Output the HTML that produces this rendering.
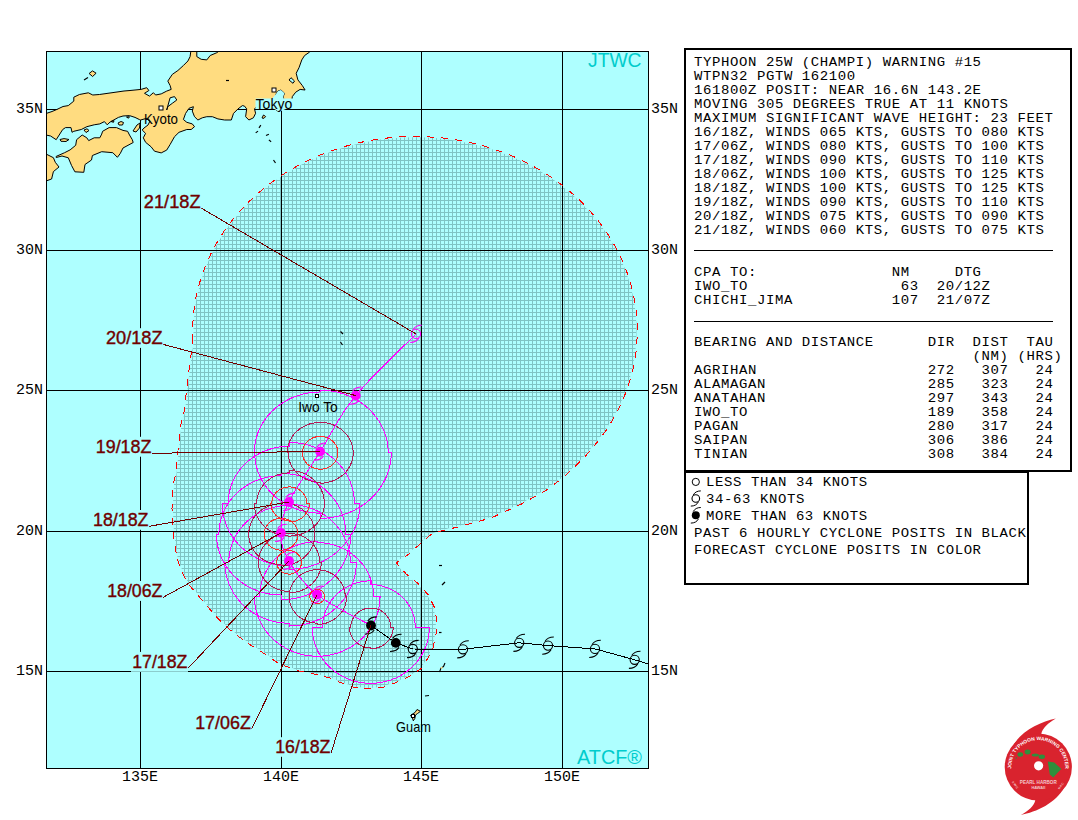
<!DOCTYPE html><html><head><meta charset="utf-8"><title>JTWC</title><style>
html,body{margin:0;padding:0;background:#fff;width:1078px;height:820px;overflow:hidden}
svg{position:absolute;left:0;top:0;display:block}
.mono{font-family:"Liberation Mono",monospace;}
.sans{font-family:"Liberation Sans",sans-serif;}
</style></head><body>
<svg width="1078" height="820" viewBox="0 0 1078 820">
<defs><clipPath id="mc"><rect x="47" y="52" width="601" height="716"/></clipPath>
<pattern id="ht" patternUnits="userSpaceOnUse" x="0" y="0" width="4" height="4"><rect width="4" height="4" fill="#aeffff"/><rect width="4" height="1" fill="#7fc4c4"/><rect width="1" height="4" fill="#7fc4c4"/></pattern>
</defs>
<rect x="47" y="52" width="601" height="716" fill="#aeffff"/>
<g clip-path="url(#mc)">
<polygon points="193.0,341.1 192.7,334.3 192.7,327.5 193.0,320.7 193.5,313.9 194.4,307.2 195.4,300.4 196.8,293.7 198.4,287.1 200.3,280.5 202.4,274.0 204.8,267.5 207.5,261.1 210.4,254.8 213.6,248.6 217.0,242.5 220.7,236.5 224.5,230.6 228.7,224.9 233.0,219.3 237.6,213.8 242.4,208.4 247.4,203.2 252.6,198.2 258.0,193.3 263.6,188.6 269.4,184.0 275.3,179.7 281.5,175.5 287.7,171.5 294.2,167.7 300.8,164.1 307.5,160.7 314.4,157.5 321.4,154.6 328.5,151.8 335.7,149.3 343.0,147.0 350.4,144.9 357.9,143.0 365.4,141.4 373.0,140.0 380.7,138.8 388.4,137.9 396.1,137.2 403.8,136.7 411.6,136.5 419.4,136.5 427.1,136.8 434.9,137.3 442.6,138.0 450.3,139.0 458.0,140.2 465.6,141.6 473.1,143.3 480.6,145.1 487.9,147.3 495.2,149.6 502.4,152.2 509.5,154.9 516.5,157.9 523.3,161.2 530.1,164.6 536.6,168.2 543.1,172.0 549.3,176.0 555.4,180.2 561.4,184.6 567.1,189.2 572.7,193.9 578.1,198.8 583.3,203.9 588.2,209.1 593.0,214.5 597.5,220.0 601.9,225.6 606.0,231.4 609.8,237.3 613.4,243.3 616.8,249.4 620.0,255.6 622.8,261.9 625.5,268.3 627.8,274.8 630.0,281.3 631.8,287.9 633.4,294.6 634.7,301.3 635.8,308.0 636.5,314.8 637.0,321.6 637.3,328.4 637.2,335.2 636.9,341.9 636.4,348.7 635.5,355.5 634.4,362.2 633.0,368.9 631.4,375.5 629.4,382.1 627.3,388.6 624.8,395.1 622.1,401.5 619.2,407.7 616.0,413.9 612.6,420.0 608.9,426.0 605.0,431.9 600.8,437.6 596.4,443.2 585.4,456.1 570.7,470.7 561.0,479.3 546.3,490.2 520.7,504.4 491.5,517.8 462.2,525.9 440.2,531.2 430.5,534.9 420.7,543.4 408.5,554.4 396.3,562.9 406.1,573.9 418.3,583.7 428.0,594.6 434.1,606.8 436.6,619.0 436.6,631.2 432.9,648.3 428.0,658.0 422.0,667.8 413.3,674.2 398.4,681.6 383.6,687.2 368.7,689.0 353.9,687.2 342.8,683.5 329.8,677.9 315.0,674.2 296.4,670.5 277.8,662.9 264.1,653.5 250.5,645.0 238.5,636.4 226.6,627.1 216.3,616.8 206.1,604.9 195.8,592.9 187.3,582.7 182.2,572.4 176.8,557.6 173.2,533.2 172.0,508.8 173.2,484.4 175.6,475.1 178.0,450.7 180.5,426.3 184.1,411.7 186.6,389.8 190.2,360.5" fill="url(#ht)" stroke="#aeffff" stroke-width="1.6"/>
<rect x="140" y="52" width="1" height="716" fill="#000"/>
<rect x="281" y="52" width="1" height="716" fill="#000"/>
<rect x="421" y="52" width="1" height="716" fill="#000"/>
<rect x="562" y="52" width="1" height="716" fill="#000"/>
<rect x="47" y="109" width="601" height="1" fill="#000"/>
<rect x="47" y="250" width="601" height="1" fill="#000"/>
<rect x="47" y="390" width="601" height="1" fill="#000"/>
<rect x="47" y="531" width="601" height="1" fill="#000"/>
<rect x="47" y="671" width="601" height="1" fill="#000"/>
<polygon points="193.0,341.1 192.7,334.3 192.7,327.5 193.0,320.7 193.5,313.9 194.4,307.2 195.4,300.4 196.8,293.7 198.4,287.1 200.3,280.5 202.4,274.0 204.8,267.5 207.5,261.1 210.4,254.8 213.6,248.6 217.0,242.5 220.7,236.5 224.5,230.6 228.7,224.9 233.0,219.3 237.6,213.8 242.4,208.4 247.4,203.2 252.6,198.2 258.0,193.3 263.6,188.6 269.4,184.0 275.3,179.7 281.5,175.5 287.7,171.5 294.2,167.7 300.8,164.1 307.5,160.7 314.4,157.5 321.4,154.6 328.5,151.8 335.7,149.3 343.0,147.0 350.4,144.9 357.9,143.0 365.4,141.4 373.0,140.0 380.7,138.8 388.4,137.9 396.1,137.2 403.8,136.7 411.6,136.5 419.4,136.5 427.1,136.8 434.9,137.3 442.6,138.0 450.3,139.0 458.0,140.2 465.6,141.6 473.1,143.3 480.6,145.1 487.9,147.3 495.2,149.6 502.4,152.2 509.5,154.9 516.5,157.9 523.3,161.2 530.1,164.6 536.6,168.2 543.1,172.0 549.3,176.0 555.4,180.2 561.4,184.6 567.1,189.2 572.7,193.9 578.1,198.8 583.3,203.9 588.2,209.1 593.0,214.5 597.5,220.0 601.9,225.6 606.0,231.4 609.8,237.3 613.4,243.3 616.8,249.4 620.0,255.6 622.8,261.9 625.5,268.3 627.8,274.8 630.0,281.3 631.8,287.9 633.4,294.6 634.7,301.3 635.8,308.0 636.5,314.8 637.0,321.6 637.3,328.4 637.2,335.2 636.9,341.9 636.4,348.7 635.5,355.5 634.4,362.2 633.0,368.9 631.4,375.5 629.4,382.1 627.3,388.6 624.8,395.1 622.1,401.5 619.2,407.7 616.0,413.9 612.6,420.0 608.9,426.0 605.0,431.9 600.8,437.6 596.4,443.2 585.4,456.1 570.7,470.7 561.0,479.3 546.3,490.2 520.7,504.4 491.5,517.8 462.2,525.9 440.2,531.2 430.5,534.9 420.7,543.4 408.5,554.4 396.3,562.9 406.1,573.9 418.3,583.7 428.0,594.6 434.1,606.8 436.6,619.0 436.6,631.2 432.9,648.3 428.0,658.0 422.0,667.8 413.3,674.2 398.4,681.6 383.6,687.2 368.7,689.0 353.9,687.2 342.8,683.5 329.8,677.9 315.0,674.2 296.4,670.5 277.8,662.9 264.1,653.5 250.5,645.0 238.5,636.4 226.6,627.1 216.3,616.8 206.1,604.9 195.8,592.9 187.3,582.7 182.2,572.4 176.8,557.6 173.2,533.2 172.0,508.8 173.2,484.4 175.6,475.1 178.0,450.7 180.5,426.3 184.1,411.7 186.6,389.8 190.2,360.5" fill="none" stroke="#ff0000" stroke-width="1" stroke-dasharray="7 7" shape-rendering="crispEdges"/>
<polygon points="190.7,40.0 190.7,52.1 190.1,56.6 187.9,61.0 183.4,65.5 177.9,70.5 172.3,74.4 167.8,81.1 170.1,85.5 171.2,89.4 166.7,91.1 161.2,93.9 155.6,95.0 153.4,92.7 149.5,96.1 144.5,93.3 148.9,90.5 146.7,87.7 141.1,89.4 130.0,90.5 124.0,91.0 99.4,94.5 92.8,95.0 88.3,92.8 79.4,94.5 73.8,97.2 73.8,101.1 68.3,105.6 63.0,106.5 57.0,109.4 52.0,111.5 47.0,113.2 40.0,113.5 40.0,135.0 46.0,135.0 50.6,136.0 56.2,139.7 62.7,129.5 65.5,127.6 71.0,127.6 72.0,132.3 73.8,131.3 81.3,129.5 86.8,126.7 94.2,124.8 99.8,123.9 104.4,121.6 107.2,124.8 110.0,122.1 118.4,117.4 123.0,116.0 129.5,115.6 135.0,117.4 139.7,119.7 140.6,120.0 146.0,118.5 150.0,121.0 148.0,125.0 144.0,128.0 142.2,130.0 145.6,133.4 143.3,137.8 145.6,142.3 151.1,146.8 154.5,151.2 161.2,152.9 166.7,150.1 170.1,144.5 174.5,136.7 179.0,132.3 186.8,129.5 191.2,129.5 194.5,126.7 192.3,123.9 186.8,122.3 183.4,119.5 185.6,113.4 189.0,108.3 193.4,106.7 192.3,111.1 194.5,116.7 197.9,120.0 202.3,117.8 206.8,116.7 212.4,116.7 217.9,118.9 224.6,120.0 231.3,120.0 233.5,113.4 238.0,108.9 242.4,105.6 244.5,106.1 246.7,108.9 245.6,116.7 248.9,120.0 253.4,117.8 255.6,113.3 254.5,108.9 256.7,106.7 265.0,106.0 274.5,108.9 279.0,111.7 277.0,106.0 275.0,100.0 276.0,94.0 278.0,91.0 281.0,90.0 284.5,93.3 283.0,97.0 285.0,102.0 287.0,106.0 289.0,107.8 292.3,106.7 291.8,101.1 292.3,96.6 295.7,92.2 300.1,89.4 305.1,90.0 302.3,85.5 297.9,79.9 296.2,73.3 299.0,67.7 301.8,59.9 304.6,55.5 309.6,52.1 309.6,40.0 219.1,40.0 219.1,51.0 216.8,52.7 210.2,55.5 206.8,59.9 201.2,59.3 196.8,56.6 196.8,40.0" fill="#ffdc80" stroke="#000" stroke-width="1"/>
<polygon points="56.2,156.4 64.6,152.7 70.1,149.9 75.7,145.3 76.6,139.7 82.2,135.0 86.8,137.8 88.7,140.6 94.2,137.8 99.8,137.8 101.7,134.1 102.6,131.3 109.1,127.6 116.5,127.6 123.0,130.4 127.6,131.3 129.5,135.0 132.3,139.7 133.2,142.5 123.0,148.0 120.2,153.6 117.4,157.3 112.8,152.7 101.7,151.7 92.4,155.5 91.5,160.0 85.0,164.5 83.8,172.3 74.9,171.8 71.6,165.6 68.3,157.8 62.0,156.0 56.2,157.5" fill="#ffdc80" stroke="#000" stroke-width="1"/>
<polygon points="40.0,154.0 46.0,154.0 53.4,157.7 55.3,162.3 59.0,167.0 53.4,171.6 51.6,179.0 46.0,181.0 40.0,181.0" fill="#ffdc80" stroke="#000" stroke-width="1"/>
<polygon points="133.0,131.0 137.0,125.0 140.0,123.0 139.5,128.0 136.0,132.0" fill="#ffdc80" stroke="#000" stroke-width="1"/>
<polygon points="89.1,73.5 92.5,70.9 96.1,73.2 92.6,76.5" fill="#ffdc80" stroke="#000" stroke-width="1"/>
<polygon points="118.0,123.0 121.0,121.5 123.5,122.5 122.5,125.0 119.0,125.0" fill="#ffdc80" stroke="#000" stroke-width="1"/>
<polygon points="60.0,139.5 64.0,138.6 69.0,139.5 66.0,141.5 61.0,141.3" fill="#ffdc80" stroke="#000" stroke-width="1"/>
<polygon points="84.0,130.0 87.0,128.8 89.0,130.5 86.0,132.5" fill="#ffdc80" stroke="#000" stroke-width="1"/>
<polygon points="111.0,121.5 114.0,120.6 113.5,122.3" fill="#ffdc80" stroke="#000" stroke-width="1"/>
<polygon points="126.5,117.0 129.5,116.7 128.5,118.2" fill="#ffdc80" stroke="#000" stroke-width="1"/>
<polygon points="166.7,110.0 170.1,97.8 174.5,96.6 176.8,100.0 172.3,103.3 167.8,106.7" fill="#aeffff" stroke="#000" stroke-width="1"/>
<polygon points="256.0,100.0 272.0,99.0 276.0,94.0 278.0,91.0 281.0,90.0 284.5,93.3 283.0,97.0 285.0,102.0 287.0,106.0 289.0,107.8 279.0,111.7 274.5,108.9 265.0,106.0 256.7,106.7" fill="#aeffff" stroke="none"/>
<rect x="255.5" y="98.5" width="37.5" height="10" fill="#aeffff"/>
<rect x="159" y="106" width="4" height="4" fill="#fff" stroke="#000" stroke-width="1"/>
<rect x="272" y="88" width="4" height="4" fill="#fff" stroke="#000" stroke-width="1"/>
<text x="144" y="123.6" class="sans" font-size="15" fill="#000" textLength="34" lengthAdjust="spacingAndGlyphs">Kyoto</text>
<text x="255.6" y="109" class="sans" font-size="15" fill="#000" textLength="36.7" lengthAdjust="spacingAndGlyphs">Tokyo</text>
<rect x="315.5" y="394.5" width="3" height="3" fill="#fff" stroke="#000" stroke-width="1"/>
<text x="298.2" y="412" class="sans" font-size="15" fill="#000" textLength="39.6" lengthAdjust="spacingAndGlyphs">Iwo To</text>
<text x="396.1" y="731.8" class="sans" font-size="15" fill="#000" textLength="34.8" lengthAdjust="spacingAndGlyphs">Guam</text>
<polygon points="417,709.5 420.5,711.3 417.5,713.5 415.5,715 414.8,718.5 413.3,720.8 412.5,718 410.5,715.5 412.5,714 415,712.5" fill="#ffdc80" stroke="#000" stroke-width="1"/>
<rect x="411" y="714" width="4" height="4" fill="#000"/><rect x="412" y="715" width="2" height="2" fill="#fff"/>
<line x1="439.0" y1="565.5" x2="442.0" y2="565.5" stroke="#000" stroke-width="1.2"/>
<line x1="442.0" y1="585.0" x2="445.0" y2="582.0" stroke="#000" stroke-width="1.2"/>
<line x1="439.0" y1="632.5" x2="441.5" y2="632.5" stroke="#000" stroke-width="1.2"/>
<line x1="425.0" y1="696.0" x2="429.0" y2="695.5" stroke="#000" stroke-width="1.2"/>
<line x1="340.5" y1="331.5" x2="343.0" y2="334.0" stroke="#000" stroke-width="1.2"/>
<line x1="340.5" y1="342.0" x2="342.5" y2="345.0" stroke="#000" stroke-width="1.2"/>
<line x1="259.0" y1="127.8" x2="260.8" y2="125.2" stroke="#000" stroke-width="1.2"/>
<line x1="255.7" y1="132.9" x2="258.0" y2="131.1" stroke="#000" stroke-width="1.2"/>
<line x1="266.0" y1="135.5" x2="268.9" y2="134.2" stroke="#000" stroke-width="1.2"/>
<line x1="268.9" y1="139.9" x2="271.1" y2="141.7" stroke="#000" stroke-width="1.2"/>
<line x1="226.0" y1="80.5" x2="229.0" y2="80.5" stroke="#000" stroke-width="1.2"/>
<line x1="84.0" y1="80.0" x2="88.0" y2="77.5" stroke="#000" stroke-width="1.2"/>
<line x1="273.5" y1="160.0" x2="275.5" y2="163.0" stroke="#000" stroke-width="1.2"/>
<path d="M439.5,672 L441,668 L443.5,666.5 L445,663" fill="none" stroke="#000" stroke-width="1.1"/><circle cx="441.7" cy="667.7" r="1" fill="#ffdc80"/>
<polygon points="262,118 263.5,115 265.6,116.5 264,118.3" fill="#ffdc80" stroke="#000" stroke-width="1"/>
<polygon points="289,80 291,77.7 294.5,81 293,83.3" fill="#aeffff" stroke="#000" stroke-width="1"/>
<path d="M370.80,584.63L373.71,584.72L376.60,584.99L379.47,585.45L382.30,586.08L385.08,586.89L387.80,587.87L390.45,589.02L393.01,590.33L395.48,591.80L397.84,593.42L400.09,595.19L402.21,597.10L404.20,599.13L406.04,601.28L407.74,603.55L409.27,605.91L410.64,608.37L411.84,610.91L412.87,613.52L413.71,616.18L414.37,618.89L414.84,621.64L415.13,624.42L415.22,627.20L429.38,627.20L429.26,630.87L428.88,634.53L428.26,638.15L427.39,641.73L426.27,645.25L424.92,648.68L423.34,652.03L421.53,655.27L419.51,658.39L417.28,661.38L414.84,664.22L412.22,666.90L409.43,669.41L406.46,671.74L403.35,673.88L400.09,675.82L396.71,677.55L393.22,679.07L389.63,680.36L385.96,681.43L382.23,682.26L378.45,682.86L374.63,683.22L370.80,683.34L370.80,683.34L366.97,683.22L363.15,682.86L359.37,682.26L355.64,681.43L351.97,680.36L348.38,679.07L344.89,677.55L341.51,675.82L338.25,673.88L335.14,671.74L332.17,669.41L329.38,666.90L326.76,664.22L324.32,661.38L322.09,658.39L320.07,655.27L318.26,652.03L316.68,648.68L315.33,645.25L314.21,641.73L313.34,638.15L312.72,634.53L312.34,630.87L312.22,627.20L322.47,627.20L322.57,624.17L322.88,621.15L323.40,618.16L324.12,615.21L325.04,612.31L326.15,609.48L327.45,606.72L328.95,604.04L330.62,601.47L332.46,599.00L334.46,596.66L336.63,594.45L338.93,592.38L341.38,590.46L343.95,588.69L346.64,587.09L349.42,585.66L352.31,584.41L355.26,583.34L358.29,582.46L361.37,581.77L364.49,581.28L367.64,580.98L370.80,580.88Z" fill="none" stroke="#ff00ff" stroke-width="1" shape-rendering="crispEdges"/>
<path d="M317.20,542.60L320.89,542.71L324.57,543.06L328.22,543.63L331.82,544.43L335.35,545.45L338.81,546.69L342.18,548.15L345.44,549.81L348.58,551.67L351.58,553.72L354.44,555.95L357.13,558.36L359.66,560.93L362.00,563.65L364.16,566.51L366.11,569.50L367.85,572.60L369.38,575.81L370.68,579.11L371.75,582.48L372.59,585.90L373.19,589.38L373.55,592.88L373.67,596.40L380.06,596.40L379.92,600.32L379.52,604.22L378.85,608.08L377.92,611.90L376.72,615.65L375.27,619.32L373.58,622.89L371.64,626.34L369.46,629.67L367.07,632.85L364.46,635.88L361.65,638.74L358.65,641.42L355.47,643.91L352.12,646.19L348.63,648.26L345.00,650.11L341.25,651.72L337.41,653.10L333.47,654.24L329.46,655.13L325.40,655.77L321.31,656.15L317.20,656.28L317.20,656.28L313.09,656.15L309.00,655.77L304.94,655.13L300.93,654.24L296.99,653.10L293.15,651.72L289.40,650.11L285.77,648.26L282.28,646.19L278.93,643.91L275.75,641.42L272.75,638.74L269.94,635.88L267.33,632.85L264.94,629.67L262.76,626.34L260.82,622.89L259.13,619.32L257.68,615.65L256.48,611.90L255.55,608.08L254.88,604.22L254.48,600.32L254.34,596.40L259.74,596.40L259.87,592.82L260.24,589.26L260.85,585.72L261.70,582.23L262.79,578.81L264.12,575.45L265.67,572.19L267.44,569.03L269.43,565.99L271.62,563.08L274.00,560.31L276.57,557.70L279.32,555.25L282.22,552.97L285.28,550.89L288.47,549.00L291.79,547.31L295.21,545.83L298.73,544.57L302.33,543.53L305.99,542.72L309.70,542.13L313.44,541.78L317.20,541.66Z" fill="none" stroke="#ff00ff" stroke-width="1" shape-rendering="crispEdges"/>
<path d="M289.10,504.39L293.11,504.51L297.10,504.88L301.06,505.50L304.97,506.37L308.81,507.47L312.57,508.80L316.22,510.37L319.76,512.16L323.17,514.17L326.43,516.38L329.53,518.78L332.46,521.38L335.20,524.15L337.75,527.08L340.08,530.17L342.20,533.39L344.09,536.74L345.75,540.20L347.16,543.75L348.33,547.39L349.24,551.08L349.89,554.83L350.29,558.61L350.42,562.40L356.35,562.40L356.21,566.56L355.78,570.70L355.06,574.81L354.06,578.87L352.78,582.85L351.23,586.75L349.42,590.54L347.34,594.21L345.02,597.75L342.45,601.13L339.66,604.35L336.65,607.39L333.44,610.24L330.04,612.88L326.46,615.30L322.73,617.50L318.84,619.46L314.84,621.18L310.72,622.65L306.51,623.86L302.22,624.80L297.88,625.48L293.50,625.89L289.10,626.03L289.10,623.22L284.90,623.09L280.71,622.70L276.56,622.05L272.46,621.15L268.44,619.99L264.50,618.59L260.67,616.95L256.96,615.07L253.39,612.97L249.97,610.65L246.71,608.13L243.64,605.41L240.77,602.50L238.10,599.42L235.65,596.19L233.43,592.81L231.45,589.30L229.71,585.67L228.23,581.95L227.01,578.14L226.05,574.27L225.37,570.34L224.95,566.38L224.82,562.40L228.77,562.40L228.90,558.67L229.29,554.95L229.93,551.27L230.83,547.63L231.97,544.05L233.36,540.56L234.99,537.16L236.85,533.86L238.94,530.69L241.24,527.65L243.74,524.77L246.44,522.04L249.32,519.49L252.37,517.12L255.58,514.94L258.94,512.97L262.42,511.21L266.01,509.67L269.71,508.35L273.49,507.27L277.33,506.42L281.23,505.81L285.15,505.45L289.10,505.32Z" fill="none" stroke="#ff00ff" stroke-width="1" shape-rendering="crispEdges"/>
<path d="M281.10,473.38L285.33,473.51L289.54,473.90L293.72,474.55L297.84,475.45L301.89,476.61L305.85,478.01L309.71,479.65L313.44,481.53L317.03,483.63L320.48,485.95L323.75,488.47L326.84,491.19L329.73,494.10L332.41,497.18L334.88,500.41L337.11,503.79L339.11,507.30L340.86,510.93L342.35,514.65L343.58,518.46L344.54,522.33L345.23,526.26L345.64,530.22L345.78,534.20L350.76,534.20L350.61,538.48L350.16,542.75L349.42,546.98L348.38,551.15L347.06,555.25L345.45,559.26L343.57,563.17L341.42,566.95L339.02,570.59L336.36,574.07L333.47,577.38L330.35,580.51L327.03,583.44L323.50,586.16L319.80,588.66L315.93,590.92L311.91,592.94L307.76,594.71L303.49,596.22L299.13,597.46L294.69,598.44L290.19,599.14L285.66,599.56L281.10,599.70L281.10,595.02L276.87,594.89L272.66,594.50L268.48,593.85L264.36,592.95L260.31,591.79L256.35,590.39L252.49,588.75L248.76,586.87L245.17,584.77L241.72,582.45L238.45,579.93L235.36,577.21L232.47,574.30L229.79,571.22L227.32,567.99L225.09,564.61L223.09,561.10L221.34,557.47L219.85,553.75L218.62,549.94L217.66,546.07L216.97,542.14L216.56,538.18L216.42,534.20L218.91,534.20L219.04,530.38L219.44,526.57L220.10,522.79L221.03,519.06L222.21,515.40L223.64,511.82L225.32,508.34L227.24,504.96L229.39,501.71L231.76,498.60L234.34,495.64L237.12,492.85L240.09,490.23L243.24,487.81L246.55,485.58L250.00,483.56L253.59,481.75L257.30,480.17L261.11,478.82L265.00,477.71L268.97,476.84L272.98,476.22L277.03,475.85L281.10,475.72Z" fill="none" stroke="#ff00ff" stroke-width="1" shape-rendering="crispEdges"/>
<path d="M289.30,442.48L293.56,442.61L297.80,443.00L302.01,443.65L306.16,444.55L310.24,445.71L314.23,447.11L318.11,448.75L321.87,450.63L325.49,452.73L328.96,455.05L332.25,457.57L335.36,460.29L338.28,463.20L340.98,466.28L343.47,469.51L345.72,472.89L347.73,476.40L349.49,480.03L350.99,483.75L352.23,487.56L353.19,491.43L353.89,495.36L354.31,499.32L354.45,503.30L359.96,503.30L359.81,507.61L359.35,511.91L358.60,516.17L357.55,520.37L356.21,524.50L354.58,528.54L352.67,532.48L350.49,536.28L348.05,539.95L345.36,543.46L342.42,546.79L339.26,549.94L335.89,552.89L332.31,555.63L328.56,558.15L324.63,560.43L320.55,562.46L316.34,564.24L312.01,565.76L307.59,567.02L303.08,568.00L298.52,568.70L293.92,569.12L289.30,569.26L289.30,565.99L284.91,565.86L280.54,565.45L276.20,564.79L271.92,563.85L267.72,562.66L263.60,561.22L259.60,559.52L255.73,557.59L251.99,555.42L248.42,553.04L245.03,550.43L241.82,547.63L238.81,544.63L236.03,541.46L233.47,538.13L231.15,534.64L229.08,531.03L227.26,527.29L225.71,523.45L224.44,519.53L223.44,515.53L222.72,511.48L222.29,507.40L222.15,503.30L228.16,503.30L228.29,499.57L228.69,495.85L229.34,492.17L230.25,488.53L231.41,484.95L232.82,481.46L234.47,478.06L236.35,474.76L238.47,471.59L240.80,468.55L243.34,465.67L246.07,462.94L248.99,460.39L252.08,458.02L255.33,455.84L258.73,453.87L262.26,452.11L265.90,450.57L269.65,449.25L273.48,448.17L277.37,447.32L281.32,446.71L285.30,446.35L289.30,446.22Z" fill="none" stroke="#ff00ff" stroke-width="1" shape-rendering="crispEdges"/>
<path d="M320.20,390.11L324.65,390.24L329.08,390.65L333.47,391.31L337.80,392.25L342.06,393.44L346.22,394.88L350.28,396.58L354.20,398.51L357.98,400.68L361.60,403.06L365.04,405.67L368.29,408.47L371.33,411.47L374.15,414.64L376.74,417.97L379.09,421.46L381.19,425.07L383.03,428.81L384.59,432.65L385.89,436.57L386.90,440.57L387.62,444.62L388.06,448.70L388.20,452.80L391.25,452.80L391.10,457.08L390.64,461.35L389.88,465.58L388.83,469.75L387.48,473.85L385.84,477.86L383.92,481.77L381.73,485.55L379.27,489.19L376.57,492.67L373.62,495.98L370.44,499.11L367.05,502.04L363.45,504.76L359.67,507.26L355.72,509.52L351.62,511.54L347.39,513.31L343.04,514.82L338.59,516.06L334.06,517.04L329.47,517.74L324.85,518.16L320.20,518.30L320.20,513.15L315.92,513.02L311.65,512.63L307.43,511.99L303.26,511.09L299.16,509.95L295.15,508.56L291.25,506.93L287.47,505.07L283.83,502.98L280.35,500.68L277.04,498.17L273.91,495.47L270.98,492.59L268.26,489.54L265.77,486.33L263.50,482.98L261.49,479.49L259.72,475.90L258.21,472.20L256.96,468.42L255.99,464.57L255.29,460.68L254.87,456.75L254.73,452.80L254.23,452.80L254.37,448.82L254.79,444.86L255.49,440.93L256.47,437.06L257.73,433.25L259.25,429.53L261.03,425.90L263.07,422.39L265.35,419.01L267.86,415.78L270.60,412.70L273.55,409.79L276.70,407.07L280.04,404.55L283.55,402.23L287.21,400.13L291.02,398.25L294.95,396.61L298.99,395.21L303.12,394.05L307.33,393.15L311.59,392.50L315.89,392.11L320.20,391.98Z" fill="none" stroke="#ff00ff" stroke-width="1" shape-rendering="crispEdges"/>
<path d="M370.80,608.02L372.11,608.06L373.41,608.18L374.70,608.39L375.98,608.67L377.23,609.04L378.46,609.48L379.65,610.00L380.81,610.59L381.92,611.25L382.98,611.98L384.00,612.78L384.95,613.64L385.85,614.55L386.68,615.52L387.44,616.54L388.13,617.61L388.75,618.72L389.29,619.86L389.75,621.03L390.13,622.24L390.43,623.46L390.64,624.70L390.77,625.95L390.82,627.20L393.26,627.20L393.21,628.61L393.06,630.01L392.82,631.40L392.49,632.77L392.06,634.12L391.55,635.44L390.94,636.72L390.25,637.96L389.47,639.16L388.62,640.30L387.68,641.39L386.68,642.42L385.61,643.38L384.47,644.27L383.28,645.09L382.03,645.84L380.73,646.50L379.39,647.08L378.02,647.58L376.61,647.99L375.18,648.31L373.73,648.54L372.27,648.67L370.80,648.72L370.80,647.78L369.40,647.74L368.00,647.61L366.61,647.39L365.24,647.08L363.90,646.69L362.58,646.22L361.30,645.66L360.06,645.03L358.87,644.32L357.72,643.53L356.64,642.68L355.61,641.76L354.65,640.77L353.76,639.73L352.94,638.64L352.20,637.49L351.54,636.30L350.96,635.08L350.46,633.82L350.05,632.53L349.73,631.22L349.50,629.89L349.37,628.55L349.32,627.20L350.78,627.20L350.83,625.95L350.96,624.70L351.17,623.46L351.47,622.24L351.85,621.03L352.31,619.86L352.85,618.72L353.47,617.61L354.16,616.54L354.92,615.52L355.75,614.55L356.65,613.64L357.60,612.78L358.62,611.98L359.68,611.25L360.79,610.59L361.95,610.00L363.14,609.48L364.37,609.04L365.62,608.67L366.90,608.39L368.19,608.18L369.49,608.06L370.80,608.02Z" fill="none" stroke="#b41856" stroke-width="1" shape-rendering="crispEdges"/>
<path d="M317.20,569.73L319.03,569.79L320.85,569.96L322.66,570.25L324.44,570.64L326.20,571.15L327.91,571.76L329.58,572.48L331.20,573.31L332.75,574.23L334.24,575.24L335.66,576.35L336.99,577.54L338.25,578.82L339.41,580.17L340.47,581.58L341.44,583.07L342.30,584.61L343.06,586.20L343.71,587.83L344.24,589.50L344.65,591.20L344.95,592.92L345.13,594.66L345.19,596.40L346.66,596.40L346.60,598.24L346.41,600.06L346.10,601.88L345.66,603.67L345.10,605.42L344.42,607.14L343.63,608.82L342.72,610.43L341.70,611.99L340.58,613.49L339.35,614.91L338.03,616.25L336.63,617.50L335.14,618.67L333.57,619.74L331.93,620.71L330.23,621.58L328.48,622.33L326.67,622.98L324.83,623.51L322.95,623.93L321.05,624.23L319.13,624.41L317.20,624.47L317.20,623.07L315.37,623.01L313.55,622.84L311.74,622.55L309.96,622.16L308.20,621.65L306.49,621.04L304.82,620.32L303.20,619.49L301.65,618.57L300.16,617.56L298.74,616.45L297.41,615.26L296.15,613.98L294.99,612.63L293.93,611.22L292.96,609.73L292.10,608.19L291.34,606.60L290.69,604.97L290.16,603.30L289.75,601.60L289.45,599.88L289.27,598.14L289.21,596.40L289.21,596.40L289.27,594.66L289.45,592.92L289.75,591.20L290.16,589.50L290.69,587.83L291.34,586.20L292.10,584.61L292.96,583.07L293.93,581.58L294.99,580.17L296.15,578.82L297.41,577.54L298.74,576.35L300.16,575.24L301.65,574.23L303.20,573.31L304.82,572.48L306.49,571.76L308.20,571.15L309.96,570.64L311.74,570.25L313.55,569.96L315.37,569.79L317.20,569.73Z" fill="none" stroke="#b41856" stroke-width="1" shape-rendering="crispEdges"/>
<path d="M317.20,589.38L317.68,589.40L318.16,589.44L318.64,589.52L319.11,589.62L319.57,589.75L320.02,589.92L320.46,590.11L320.88,590.32L321.29,590.57L321.68,590.83L322.06,591.12L322.41,591.44L322.74,591.77L323.04,592.13L323.32,592.50L323.58,592.89L323.81,593.30L324.01,593.71L324.18,594.14L324.32,594.58L324.42,595.03L324.50,595.48L324.55,595.94L324.57,596.40L324.57,596.40L324.55,596.86L324.50,597.32L324.42,597.77L324.32,598.22L324.18,598.66L324.01,599.09L323.81,599.50L323.58,599.91L323.32,600.30L323.04,600.67L322.74,601.03L322.41,601.36L322.06,601.68L321.68,601.97L321.29,602.23L320.88,602.48L320.46,602.69L320.02,602.88L319.57,603.05L319.11,603.18L318.64,603.28L318.16,603.36L317.68,603.40L317.20,603.42L317.20,603.42L316.72,603.40L316.24,603.36L315.76,603.28L315.29,603.18L314.83,603.05L314.38,602.88L313.94,602.69L313.52,602.48L313.11,602.23L312.72,601.97L312.34,601.68L311.99,601.36L311.66,601.03L311.36,600.67L311.08,600.30L310.82,599.91L310.59,599.50L310.39,599.09L310.22,598.66L310.08,598.22L309.98,597.77L309.90,597.32L309.85,596.86L309.83,596.40L309.83,596.40L309.85,595.94L309.90,595.48L309.98,595.03L310.08,594.58L310.22,594.14L310.39,593.71L310.59,593.30L310.82,592.89L311.08,592.50L311.36,592.13L311.66,591.77L311.99,591.44L312.34,591.12L312.72,590.83L313.11,590.57L313.52,590.32L313.94,590.11L314.38,589.92L314.83,589.75L315.29,589.62L315.76,589.52L316.24,589.44L316.72,589.40L317.20,589.38Z" fill="none" stroke="#ff2a2a" stroke-width="1" shape-rendering="crispEdges"/>
<path d="M289.10,533.39L291.11,533.46L293.10,533.64L295.08,533.95L297.04,534.38L298.95,534.93L300.83,535.60L302.66,536.39L304.43,537.28L306.13,538.28L307.76,539.39L309.31,540.59L310.78,541.89L312.15,543.28L313.42,544.74L314.59,546.29L315.65,547.90L316.60,549.57L317.42,551.30L318.13,553.08L318.71,554.89L319.17,556.74L319.50,558.61L319.69,560.50L319.76,562.40L321.24,562.40L321.17,564.39L320.97,566.37L320.62,568.33L320.15,570.27L319.54,572.17L318.80,574.04L317.93,575.85L316.94,577.60L315.83,579.29L314.60,580.91L313.27,582.45L311.83,583.90L310.29,585.26L308.67,586.53L306.96,587.68L305.17,588.74L303.32,589.67L301.40,590.49L299.43,591.20L297.42,591.77L295.37,592.22L293.30,592.55L291.20,592.74L289.10,592.81L289.10,591.41L287.09,591.34L285.10,591.16L283.12,590.85L281.16,590.42L279.25,589.87L277.37,589.20L275.54,588.41L273.77,587.52L272.07,586.52L270.44,585.41L268.89,584.21L267.42,582.91L266.05,581.52L264.78,580.06L263.61,578.51L262.55,576.90L261.60,575.23L260.78,573.50L260.07,571.72L259.49,569.91L259.03,568.06L258.70,566.19L258.51,564.30L258.44,562.40L258.44,562.40L258.51,560.50L258.70,558.61L259.03,556.74L259.49,554.89L260.07,553.08L260.78,551.30L261.60,549.57L262.55,547.90L263.61,546.29L264.78,544.74L266.05,543.28L267.42,541.89L268.89,540.59L270.44,539.39L272.07,538.28L273.77,537.28L275.54,536.39L277.37,535.60L279.25,534.93L281.16,534.38L283.12,533.95L285.10,533.64L287.09,533.46L289.10,533.39Z" fill="none" stroke="#b41856" stroke-width="1" shape-rendering="crispEdges"/>
<path d="M289.10,550.70L289.91,550.73L290.71,550.80L291.51,550.93L292.30,551.10L293.07,551.32L293.83,551.59L294.57,551.91L295.28,552.27L295.97,552.68L296.63,553.12L297.25,553.61L297.84,554.13L298.39,554.69L298.91,555.28L299.38,555.90L299.81,556.55L300.19,557.23L300.52,557.92L300.81,558.64L301.04,559.37L301.22,560.12L301.36,560.87L301.44,561.64L301.46,562.40L301.46,562.40L301.44,563.16L301.36,563.93L301.22,564.68L301.04,565.43L300.81,566.16L300.52,566.88L300.19,567.57L299.81,568.25L299.38,568.90L298.91,569.52L298.39,570.11L297.84,570.67L297.25,571.19L296.63,571.68L295.97,572.12L295.28,572.53L294.57,572.89L293.83,573.21L293.07,573.48L292.30,573.70L291.51,573.87L290.71,574.00L289.91,574.07L289.10,574.10L289.10,574.10L288.29,574.07L287.49,574.00L286.69,573.87L285.90,573.70L285.13,573.48L284.37,573.21L283.63,572.89L282.92,572.53L282.23,572.12L281.57,571.68L280.95,571.19L280.36,570.67L279.81,570.11L279.29,569.52L278.82,568.90L278.39,568.25L278.01,567.57L277.68,566.88L277.39,566.16L277.16,565.43L276.98,564.68L276.84,563.93L276.76,563.16L276.74,562.40L276.74,562.40L276.76,561.64L276.84,560.87L276.98,560.12L277.16,559.37L277.39,558.64L277.68,557.92L278.01,557.23L278.39,556.55L278.82,555.90L279.29,555.28L279.81,554.69L280.36,554.13L280.95,553.61L281.57,553.12L282.23,552.68L282.92,552.27L283.63,551.91L284.37,551.59L285.13,551.32L285.90,551.10L286.69,550.93L287.49,550.80L288.29,550.73L289.10,550.70Z" fill="none" stroke="#ff2a2a" stroke-width="1" shape-rendering="crispEdges"/>
<path d="M281.10,502.39L283.31,502.46L285.52,502.66L287.70,503.00L289.86,503.47L291.98,504.08L294.05,504.81L296.06,505.67L298.02,506.65L299.90,507.75L301.70,508.96L303.41,510.28L305.02,511.71L306.54,513.22L307.94,514.83L309.23,516.53L310.40,518.29L311.44,520.13L312.36,522.03L313.14,523.97L313.78,525.97L314.28,527.99L314.64,530.05L314.86,532.12L314.93,534.20L314.93,534.20L314.86,536.28L314.64,538.35L314.28,540.41L313.78,542.43L313.14,544.43L312.36,546.37L311.44,548.27L310.40,550.11L309.23,551.87L307.94,553.57L306.54,555.18L305.02,556.69L303.41,558.12L301.70,559.44L299.90,560.65L298.02,561.75L296.06,562.73L294.05,563.59L291.98,564.32L289.86,564.93L287.70,565.40L285.52,565.74L283.31,565.94L281.10,566.01L281.10,564.61L278.98,564.54L276.88,564.35L274.79,564.02L272.73,563.57L270.70,563.00L268.72,562.29L266.80,561.47L264.93,560.54L263.13,559.48L261.41,558.33L259.78,557.06L258.23,555.70L256.79,554.25L255.44,552.71L254.21,551.09L253.09,549.40L252.09,547.65L251.22,545.84L250.48,543.97L249.86,542.07L249.38,540.13L249.04,538.17L248.83,536.19L248.76,534.20L248.76,534.20L248.83,532.21L249.04,530.23L249.38,528.27L249.86,526.33L250.48,524.43L251.22,522.56L252.09,520.75L253.09,519.00L254.21,517.31L255.44,515.69L256.79,514.15L258.23,512.70L259.78,511.34L261.41,510.07L263.13,508.92L264.93,507.86L266.80,506.93L268.72,506.11L270.70,505.40L272.73,504.83L274.79,504.38L276.88,504.05L278.98,503.86L281.10,503.79Z" fill="none" stroke="#b41856" stroke-width="1" shape-rendering="crispEdges"/>
<path d="M281.10,518.29L282.21,518.33L283.31,518.43L284.40,518.60L285.48,518.84L286.54,519.14L287.57,519.50L288.58,519.93L289.56,520.42L290.50,520.97L291.40,521.58L292.25,522.24L293.06,522.95L293.82,523.71L294.52,524.52L295.17,525.36L295.75,526.25L296.27,527.16L296.73,528.11L297.12,529.09L297.44,530.08L297.69,531.10L297.87,532.12L297.98,533.16L298.02,534.20L298.02,534.20L297.98,535.24L297.87,536.28L297.69,537.30L297.44,538.32L297.12,539.31L296.73,540.29L296.27,541.24L295.75,542.15L295.17,543.04L294.52,543.88L293.82,544.69L293.06,545.45L292.25,546.16L291.40,546.82L290.50,547.43L289.56,547.98L288.58,548.47L287.57,548.90L286.54,549.26L285.48,549.56L284.40,549.80L283.31,549.97L282.21,550.07L281.10,550.11L281.10,550.11L279.99,550.07L278.89,549.97L277.80,549.80L276.72,549.56L275.66,549.26L274.63,548.90L273.62,548.47L272.64,547.98L271.70,547.43L270.80,546.82L269.95,546.16L269.14,545.45L268.38,544.69L267.68,543.88L267.03,543.04L266.45,542.15L265.93,541.24L265.47,540.29L265.08,539.31L264.76,538.32L264.51,537.30L264.33,536.28L264.22,535.24L264.18,534.20L264.18,534.20L264.22,533.16L264.33,532.12L264.51,531.10L264.76,530.08L265.08,529.09L265.47,528.11L265.93,527.16L266.45,526.25L267.03,525.36L267.68,524.52L268.38,523.71L269.14,522.95L269.95,522.24L270.80,521.58L271.70,520.97L272.64,520.42L273.62,519.93L274.63,519.50L275.66,519.14L276.72,518.84L277.80,518.60L278.89,518.43L279.99,518.33L281.10,518.29Z" fill="none" stroke="#ff2a2a" stroke-width="1" shape-rendering="crispEdges"/>
<path d="M289.30,470.55L291.59,470.62L293.88,470.83L296.14,471.18L298.38,471.67L300.58,472.29L302.72,473.04L304.81,473.93L306.84,474.94L308.79,476.07L310.65,477.32L312.43,478.68L314.10,480.14L315.67,481.71L317.13,483.36L318.47,485.11L319.68,486.93L320.76,488.82L321.71,490.77L322.52,492.77L323.18,494.82L323.70,496.91L324.08,499.03L324.30,501.16L324.38,503.30L324.38,503.30L324.30,505.44L324.08,507.57L323.70,509.69L323.18,511.78L322.52,513.83L321.71,515.83L320.76,517.78L319.68,519.67L318.47,521.49L317.13,523.24L315.67,524.89L314.10,526.46L312.43,527.92L310.65,529.28L308.79,530.53L306.84,531.66L304.81,532.67L302.72,533.56L300.58,534.31L298.38,534.93L296.14,535.42L293.88,535.77L291.59,535.98L289.30,536.05L289.30,536.05L287.01,535.98L284.72,535.77L282.46,535.42L280.22,534.93L278.02,534.31L275.88,533.56L273.79,532.67L271.76,531.66L269.81,530.53L267.95,529.28L266.17,527.92L264.50,526.46L262.93,524.89L261.47,523.24L260.13,521.49L258.92,519.67L257.84,517.78L256.89,515.83L256.08,513.83L255.42,511.78L254.90,509.69L254.52,507.57L254.30,505.44L254.22,503.30L256.73,503.30L256.80,501.31L257.01,499.33L257.35,497.37L257.84,495.43L258.46,493.53L259.21,491.66L260.09,489.85L261.09,488.10L262.22,486.41L263.46,484.79L264.81,483.25L266.27,481.80L267.82,480.44L269.47,479.17L271.20,478.02L273.01,476.96L274.89,476.03L276.83,475.21L278.83,474.50L280.87,473.93L282.95,473.48L285.05,473.15L287.17,472.96L289.30,472.89Z" fill="none" stroke="#b41856" stroke-width="1" shape-rendering="crispEdges"/>
<path d="M289.30,486.93L290.45,486.96L291.59,487.07L292.72,487.24L293.84,487.48L294.94,487.79L296.01,488.17L297.06,488.61L298.07,489.12L299.04,489.69L299.98,490.31L300.86,490.99L301.70,491.72L302.49,492.50L303.21,493.33L303.88,494.20L304.49,495.11L305.03,496.06L305.50,497.03L305.91,498.04L306.24,499.06L306.50,500.11L306.69,501.16L306.80,502.23L306.84,503.30L309.34,503.30L309.30,504.52L309.17,505.74L308.96,506.95L308.66,508.14L308.28,509.32L307.82,510.46L307.28,511.58L306.66,512.66L305.97,513.70L305.20,514.69L304.37,515.64L303.47,516.53L302.52,517.37L301.50,518.15L300.44,518.86L299.32,519.51L298.17,520.08L296.97,520.59L295.74,521.02L294.49,521.38L293.21,521.65L291.92,521.85L290.61,521.97L289.30,522.01L289.30,520.61L288.09,520.57L286.88,520.46L285.68,520.28L284.50,520.02L283.34,519.69L282.20,519.29L281.10,518.82L280.03,518.29L279.00,517.69L278.01,517.03L277.07,516.31L276.19,515.54L275.36,514.71L274.59,513.84L273.88,512.92L273.24,511.95L272.67,510.96L272.17,509.92L271.74,508.86L271.39,507.78L271.11,506.68L270.92,505.56L270.80,504.43L270.76,503.30L271.76,503.30L271.80,502.23L271.91,501.16L272.10,500.11L272.36,499.06L272.69,498.04L273.10,497.03L273.57,496.06L274.11,495.11L274.72,494.20L275.39,493.33L276.11,492.50L276.90,491.72L277.74,490.99L278.62,490.31L279.56,489.69L280.53,489.12L281.54,488.61L282.59,488.17L283.66,487.79L284.76,487.48L285.88,487.24L287.01,487.07L288.15,486.96L289.30,486.93Z" fill="none" stroke="#ff2a2a" stroke-width="1" shape-rendering="crispEdges"/>
<path d="M320.20,422.39L322.36,422.46L324.51,422.65L326.64,422.98L328.74,423.43L330.80,424.00L332.82,424.71L334.79,425.53L336.69,426.46L338.53,427.52L340.28,428.67L341.95,429.94L343.53,431.30L345.00,432.75L346.37,434.29L347.63,435.91L348.77,437.60L349.78,439.35L350.68,441.16L351.44,443.03L352.06,444.93L352.55,446.87L352.90,448.83L353.12,450.81L353.19,452.80L353.19,452.80L353.12,454.79L352.90,456.77L352.55,458.73L352.06,460.67L351.44,462.57L350.68,464.44L349.78,466.25L348.77,468.00L347.63,469.69L346.37,471.31L345.00,472.85L343.53,474.30L341.95,475.66L340.28,476.93L338.53,478.08L336.69,479.14L334.79,480.07L332.82,480.89L330.80,481.60L328.74,482.17L326.64,482.62L324.51,482.95L322.36,483.14L320.20,483.21L320.20,482.27L318.11,482.21L316.03,482.02L313.96,481.71L311.93,481.27L309.92,480.71L307.96,480.03L306.06,479.23L304.21,478.32L302.44,477.31L300.74,476.18L299.12,474.96L297.59,473.64L296.16,472.23L294.84,470.74L293.62,469.17L292.51,467.54L291.53,465.84L290.66,464.08L289.93,462.27L289.32,460.43L288.84,458.55L288.50,456.65L288.30,454.73L288.23,452.80L287.21,452.80L287.28,450.81L287.50,448.83L287.85,446.87L288.34,444.93L288.96,443.03L289.72,441.16L290.62,439.35L291.63,437.60L292.77,435.91L294.03,434.29L295.40,432.75L296.87,431.30L298.45,429.94L300.12,428.67L301.87,427.52L303.71,426.46L305.61,425.53L307.58,424.71L309.60,424.00L311.66,423.43L313.76,422.98L315.89,422.65L318.04,422.46L320.20,422.39Z" fill="none" stroke="#b41856" stroke-width="1" shape-rendering="crispEdges"/>
<path d="M320.20,436.43L321.36,436.46L322.52,436.57L323.67,436.74L324.80,436.98L325.91,437.29L327.00,437.67L328.06,438.11L329.08,438.62L330.07,439.19L331.01,439.81L331.91,440.49L332.76,441.22L333.55,442.00L334.29,442.83L334.97,443.70L335.58,444.61L336.13,445.56L336.61,446.53L337.02,447.54L337.36,448.56L337.62,449.61L337.81,450.66L337.92,451.73L337.96,452.80L337.96,452.80L337.92,453.87L337.81,454.94L337.62,455.99L337.36,457.04L337.02,458.06L336.61,459.07L336.13,460.04L335.58,460.99L334.97,461.90L334.29,462.77L333.55,463.60L332.76,464.38L331.91,465.11L331.01,465.79L330.07,466.41L329.08,466.98L328.06,467.49L327.00,467.93L325.91,468.31L324.80,468.62L323.67,468.86L322.52,469.03L321.36,469.14L320.20,469.17L320.20,469.17L319.04,469.14L317.88,469.03L316.73,468.86L315.60,468.62L314.49,468.31L313.40,467.93L312.34,467.49L311.32,466.98L310.33,466.41L309.39,465.79L308.49,465.11L307.64,464.38L306.85,463.60L306.11,462.77L305.43,461.90L304.82,460.99L304.27,460.04L303.79,459.07L303.38,458.06L303.04,457.04L302.78,455.99L302.59,454.94L302.48,453.87L302.44,452.80L302.44,452.80L302.48,451.73L302.59,450.66L302.78,449.61L303.04,448.56L303.38,447.54L303.79,446.53L304.27,445.56L304.82,444.61L305.43,443.70L306.11,442.83L306.85,442.00L307.64,441.22L308.49,440.49L309.39,439.81L310.33,439.19L311.32,438.62L312.34,438.11L313.40,437.67L314.49,437.29L315.60,436.98L316.73,436.74L317.88,436.57L319.04,436.46L320.20,436.43Z" fill="none" stroke="#ff2a2a" stroke-width="1" shape-rendering="crispEdges"/>
<polyline points="371.0,625.5 369.1,624.4 366.7,623.1 363.9,621.7 360.7,620.0 357.3,618.2 353.6,616.3 349.8,614.3 345.8,612.2 341.8,610.0 337.8,607.8 333.8,605.5 330.0,603.2 326.4,601.0 323.0,598.8 319.9,596.7 317.1,594.6 314.6,592.6 312.2,590.5 309.9,588.4 307.8,586.2 305.7,584.1 303.8,581.9 301.9,579.7 300.2,577.6 298.5,575.4 296.9,573.2 295.4,571.1 294.0,569.0 292.7,566.9 291.4,564.9 290.2,562.9 289.0,560.9 287.9,559.0 286.9,557.1 286.0,555.3 285.2,553.6 284.4,551.8 283.8,550.1 283.2,548.4 282.7,546.7 282.2,545.0 281.9,543.4 281.6,541.7 281.3,540.0 281.1,538.2 281.0,536.5 280.9,534.7 280.9,532.9 280.9,531.1 281.0,529.3 281.1,527.6 281.2,525.8 281.5,524.1 281.7,522.4 282.1,520.6 282.5,518.8 283.0,517.0 283.6,515.1 284.2,513.2 285.0,511.2 285.8,509.0 286.8,506.8 287.8,504.5 289.0,502.0 290.3,499.4 291.8,496.7 293.3,493.8 295.0,490.9 296.9,487.9 298.8,484.8 300.8,481.6 302.8,478.4 304.9,475.1 307.1,471.8 309.3,468.4 311.5,465.1 313.7,461.7 315.8,458.3 318.0,454.9 320.1,451.6 322.2,448.3 324.2,444.9 326.2,441.5 328.1,438.1 330.1,434.7 332.1,431.3 334.1,427.8 336.1,424.3 338.2,420.8 340.4,417.3 342.7,413.7 345.0,410.1 347.5,406.5 350.1,402.9 352.9,399.3 355.8,395.6 359.0,391.8 362.6,387.7 366.4,383.5 370.5,379.1 374.8,374.7 379.2,370.2 383.7,365.7 388.1,361.3 392.5,356.9 396.8,352.8 400.8,348.8 404.6,345.1 408.1,341.7 411.2,338.7 413.8,336.1 416.0,333.9" fill="none" stroke="#ff00ff" stroke-width="1" shape-rendering="crispEdges"/>
<polyline points="371.0,625.5 395.8,642.9 412.8,649.0 463.0,649.3 519.2,642.8 548.0,645.6 595.0,648.9 634.7,659.8 660.0,667.4" fill="none" stroke="#000" stroke-width="1" shape-rendering="crispEdges"/>
<circle cx="317.1" cy="594.6" r="4.9" fill="#ff00ff"/><path d="M313.9,590.1 Q316.6,586.0 322.9,586.0 M320.3,599.1 Q317.6,603.2 311.3,603.2" fill="none" stroke="#ff00ff" stroke-width="1.1"/>
<circle cx="289.0" cy="560.9" r="4.9" fill="#ff00ff"/><path d="M285.8,556.4 Q288.5,552.3 294.8,552.3 M292.2,565.4 Q289.5,569.5 283.2,569.5" fill="none" stroke="#ff00ff" stroke-width="1.1"/>
<circle cx="280.9" cy="532.9" r="4.9" fill="#ff00ff"/><path d="M277.7,528.4 Q280.4,524.3 286.7,524.3 M284.1,537.4 Q281.4,541.5 275.1,541.5" fill="none" stroke="#ff00ff" stroke-width="1.1"/>
<circle cx="289.0" cy="502.0" r="4.9" fill="#ff00ff"/><path d="M285.8,497.5 Q288.5,493.4 294.8,493.4 M292.2,506.5 Q289.5,510.6 283.2,510.6" fill="none" stroke="#ff00ff" stroke-width="1.1"/>
<circle cx="320.1" cy="451.6" r="4.9" fill="#ff00ff"/><path d="M316.9,447.1 Q319.6,443.0 325.9,443.0 M323.3,456.1 Q320.6,460.2 314.3,460.2" fill="none" stroke="#ff00ff" stroke-width="1.1"/>
<circle cx="355.8" cy="395.6" r="4.9" fill="#ff00ff"/><path d="M352.6,391.1 Q355.3,387.0 361.6,387.0 M359.0,400.1 Q356.3,404.2 350.0,404.2" fill="none" stroke="#ff00ff" stroke-width="1.1"/>
<circle cx="416.0" cy="333.9" r="4.6" fill="none" stroke="#ff00ff" stroke-width="1.1"/><path d="M413.0,329.7 Q415.5,325.3 421.8,325.3 M419.0,338.1 Q416.5,342.5 410.2,342.5" fill="none" stroke="#ff00ff" stroke-width="1.1"/>
<circle cx="371.0" cy="625.5" r="4.9" fill="#000"/><path d="M367.8,621.0 Q370.5,616.9 376.8,616.9 M374.2,630.0 Q371.5,634.1 365.2,634.1" fill="none" stroke="#000" stroke-width="1.1"/>
<circle cx="395.8" cy="642.9" r="4.9" fill="#000"/><path d="M392.6,638.4 Q395.3,634.3 401.6,634.3 M399.0,647.4 Q396.3,651.5 390.0,651.5" fill="none" stroke="#000" stroke-width="1.1"/>
<circle cx="412.8" cy="649.0" r="4.6" fill="none" stroke="#000" stroke-width="1.1"/><path d="M409.8,644.8 Q412.3,640.4 418.6,640.4 M415.8,653.2 Q413.3,657.6 407.0,657.6" fill="none" stroke="#000" stroke-width="1.1"/>
<circle cx="463.0" cy="649.3" r="4.6" fill="none" stroke="#000" stroke-width="1.1"/><path d="M460.0,645.1 Q462.5,640.7 468.8,640.7 M466.0,653.5 Q463.5,657.9 457.2,657.9" fill="none" stroke="#000" stroke-width="1.1"/>
<circle cx="519.2" cy="642.8" r="4.6" fill="none" stroke="#000" stroke-width="1.1"/><path d="M516.2,638.6 Q518.7,634.2 525.0,634.2 M522.2,647.0 Q519.7,651.4 513.4,651.4" fill="none" stroke="#000" stroke-width="1.1"/>
<circle cx="548.0" cy="645.6" r="4.6" fill="none" stroke="#000" stroke-width="1.1"/><path d="M545.0,641.4 Q547.5,637.0 553.8,637.0 M551.0,649.8 Q548.5,654.2 542.2,654.2" fill="none" stroke="#000" stroke-width="1.1"/>
<circle cx="595.0" cy="648.9" r="4.6" fill="none" stroke="#000" stroke-width="1.1"/><path d="M592.0,644.7 Q594.5,640.3 600.8,640.3 M598.0,653.1 Q595.5,657.5 589.2,657.5" fill="none" stroke="#000" stroke-width="1.1"/>
<circle cx="634.7" cy="659.8" r="4.6" fill="none" stroke="#000" stroke-width="1.1"/><path d="M631.7,655.6 Q634.2,651.2 640.5,651.2 M637.7,664.0 Q635.2,668.4 628.9,668.4" fill="none" stroke="#000" stroke-width="1.1"/>
<circle cx="660.0" cy="667.4" r="4.6" fill="none" stroke="#000" stroke-width="1.1"/><path d="M657.0,663.2 Q659.5,658.8 665.8,658.8 M663.0,671.6 Q660.5,676.0 654.2,676.0" fill="none" stroke="#000" stroke-width="1.1"/>
<line x1="201.2" y1="208.1" x2="416.0" y2="333.9" stroke="#700000" stroke-width="1" shape-rendering="crispEdges"/>
<line x1="163.2" y1="344.4" x2="355.8" y2="395.6" stroke="#700000" stroke-width="1" shape-rendering="crispEdges"/>
<line x1="152.0" y1="453.2" x2="320.1" y2="451.6" stroke="#700000" stroke-width="1" shape-rendering="crispEdges"/>
<line x1="149.1" y1="526.3" x2="289.0" y2="502.0" stroke="#700000" stroke-width="1" shape-rendering="crispEdges"/>
<line x1="163.0" y1="597.4" x2="280.9" y2="532.9" stroke="#700000" stroke-width="1" shape-rendering="crispEdges"/>
<line x1="188.0" y1="668.3" x2="289.0" y2="560.9" stroke="#700000" stroke-width="1" shape-rendering="crispEdges"/>
<line x1="251.4" y1="729.4" x2="317.1" y2="594.6" stroke="#700000" stroke-width="1" shape-rendering="crispEdges"/>
<line x1="331.0" y1="753.3" x2="370.9" y2="625.5" stroke="#700000" stroke-width="1" shape-rendering="crispEdges"/>
<rect x="142.6" y="191.8" width="58.6" height="19.8" fill="#aeffff"/>
<text x="143.8" y="207.6" class="sans" font-size="19" fill="#700000" stroke="#700000" stroke-width="0.4" textLength="56.8" lengthAdjust="spacingAndGlyphs">21/18Z</text>
<rect x="104.7" y="328.2" width="58.5" height="19.7" fill="#aeffff"/>
<text x="105.9" y="343.9" class="sans" font-size="19" fill="#700000" stroke="#700000" stroke-width="0.4" textLength="56.7" lengthAdjust="spacingAndGlyphs">20/18Z</text>
<rect x="94.6" y="436.8" width="57.4" height="19.9" fill="#aeffff"/>
<text x="95.8" y="452.7" class="sans" font-size="19" fill="#700000" stroke="#700000" stroke-width="0.4" textLength="55.6" lengthAdjust="spacingAndGlyphs">19/18Z</text>
<rect x="91.8" y="510.0" width="57.3" height="19.8" fill="#aeffff"/>
<text x="93.0" y="525.8" class="sans" font-size="19" fill="#700000" stroke="#700000" stroke-width="0.4" textLength="55.5" lengthAdjust="spacingAndGlyphs">18/18Z</text>
<rect x="106.0" y="581.0" width="57.0" height="19.9" fill="#aeffff"/>
<text x="107.2" y="596.9" class="sans" font-size="19" fill="#700000" stroke="#700000" stroke-width="0.4" textLength="55.2" lengthAdjust="spacingAndGlyphs">18/06Z</text>
<rect x="131.0" y="651.9" width="57.0" height="19.9" fill="#aeffff"/>
<text x="132.2" y="667.8" class="sans" font-size="19" fill="#700000" stroke="#700000" stroke-width="0.4" textLength="55.2" lengthAdjust="spacingAndGlyphs">17/18Z</text>
<rect x="194.0" y="713.3" width="57.4" height="19.6" fill="#aeffff"/>
<text x="195.2" y="728.9" class="sans" font-size="19" fill="#700000" stroke="#700000" stroke-width="0.4" textLength="55.6" lengthAdjust="spacingAndGlyphs">17/06Z</text>
<rect x="274.0" y="737.2" width="57.0" height="19.6" fill="#aeffff"/>
<text x="275.2" y="752.8" class="sans" font-size="19" fill="#700000" stroke="#700000" stroke-width="0.4" textLength="55.2" lengthAdjust="spacingAndGlyphs">16/18Z</text>
<text x="588" y="67" class="sans" font-size="19.5" fill="#00cccc" textLength="53.5" lengthAdjust="spacingAndGlyphs">JTWC</text>
<text x="577" y="764" class="sans" font-size="19.5" fill="#00cccc" textLength="65" lengthAdjust="spacingAndGlyphs">ATCF&#174;</text>
</g>
<rect x="46.5" y="51.5" width="602" height="717" fill="none" stroke="#000" stroke-width="1"/>
<text x="16" y="113" class="mono" font-size="15" fill="#000">35N</text>
<text x="651" y="113" class="mono" font-size="15" fill="#000">35N</text>
<text x="16" y="254" class="mono" font-size="15" fill="#000">30N</text>
<text x="651" y="254" class="mono" font-size="15" fill="#000">30N</text>
<text x="16" y="394" class="mono" font-size="15" fill="#000">25N</text>
<text x="651" y="394" class="mono" font-size="15" fill="#000">25N</text>
<text x="16" y="535" class="mono" font-size="15" fill="#000">20N</text>
<text x="651" y="535" class="mono" font-size="15" fill="#000">20N</text>
<text x="16" y="675" class="mono" font-size="15" fill="#000">15N</text>
<text x="651" y="675" class="mono" font-size="15" fill="#000">15N</text>
<text x="122" y="781" class="mono" font-size="15" fill="#000">135E</text>
<text x="263" y="781" class="mono" font-size="15" fill="#000">140E</text>
<text x="403" y="781" class="mono" font-size="15" fill="#000">145E</text>
<text x="544" y="781" class="mono" font-size="15" fill="#000">150E</text>
<rect x="685" y="49" width="386" height="422" fill="#fff" stroke="#000" stroke-width="2"/>
<text transform="translate(694,66) scale(1,0.9)" class="mono" font-size="14" letter-spacing="0.6" fill="#000" xml:space="preserve">TYPHOON 25W (CHAMPI) WARNING #15</text>
<text transform="translate(694,80) scale(1,0.9)" class="mono" font-size="14" letter-spacing="0.6" fill="#000" xml:space="preserve">WTPN32 PGTW 162100</text>
<text transform="translate(694,94) scale(1,0.9)" class="mono" font-size="14" letter-spacing="0.6" fill="#000" xml:space="preserve">161800Z POSIT: NEAR 16.6N 143.2E</text>
<text transform="translate(694,108) scale(1,0.9)" class="mono" font-size="14" letter-spacing="0.6" fill="#000" xml:space="preserve">MOVING 305 DEGREES TRUE AT 11 KNOTS</text>
<text transform="translate(694,122) scale(1,0.9)" class="mono" font-size="14" letter-spacing="0.6" fill="#000" xml:space="preserve">MAXIMUM SIGNIFICANT WAVE HEIGHT: 23 FEET</text>
<text transform="translate(694,136) scale(1,0.9)" class="mono" font-size="14" letter-spacing="0.6" fill="#000" xml:space="preserve">16/18Z, WINDS 065 KTS, GUSTS TO 080 KTS</text>
<text transform="translate(694,150) scale(1,0.9)" class="mono" font-size="14" letter-spacing="0.6" fill="#000" xml:space="preserve">17/06Z, WINDS 080 KTS, GUSTS TO 100 KTS</text>
<text transform="translate(694,164) scale(1,0.9)" class="mono" font-size="14" letter-spacing="0.6" fill="#000" xml:space="preserve">17/18Z, WINDS 090 KTS, GUSTS TO 110 KTS</text>
<text transform="translate(694,178) scale(1,0.9)" class="mono" font-size="14" letter-spacing="0.6" fill="#000" xml:space="preserve">18/06Z, WINDS 100 KTS, GUSTS TO 125 KTS</text>
<text transform="translate(694,192) scale(1,0.9)" class="mono" font-size="14" letter-spacing="0.6" fill="#000" xml:space="preserve">18/18Z, WINDS 100 KTS, GUSTS TO 125 KTS</text>
<text transform="translate(694,206) scale(1,0.9)" class="mono" font-size="14" letter-spacing="0.6" fill="#000" xml:space="preserve">19/18Z, WINDS 090 KTS, GUSTS TO 110 KTS</text>
<text transform="translate(694,220) scale(1,0.9)" class="mono" font-size="14" letter-spacing="0.6" fill="#000" xml:space="preserve">20/18Z, WINDS 075 KTS, GUSTS TO 090 KTS</text>
<text transform="translate(694,234) scale(1,0.9)" class="mono" font-size="14" letter-spacing="0.6" fill="#000" xml:space="preserve">21/18Z, WINDS 060 KTS, GUSTS TO 075 KTS</text>
<text transform="translate(694,276) scale(1,0.9)" class="mono" font-size="14" letter-spacing="0.6" fill="#000" xml:space="preserve">CPA TO:               NM     DTG</text>
<text transform="translate(694,290) scale(1,0.9)" class="mono" font-size="14" letter-spacing="0.6" fill="#000" xml:space="preserve">IWO_TO                 63  20/12Z</text>
<text transform="translate(694,304) scale(1,0.9)" class="mono" font-size="14" letter-spacing="0.6" fill="#000" xml:space="preserve">CHICHI_JIMA           107  21/07Z</text>
<text transform="translate(694,346) scale(1,0.9)" class="mono" font-size="14" letter-spacing="0.6" fill="#000" xml:space="preserve">BEARING AND DISTANCE      DIR  DIST  TAU</text>
<text transform="translate(694,360) scale(1,0.9)" class="mono" font-size="14" letter-spacing="0.6" fill="#000" xml:space="preserve">                               (NM) (HRS)</text>
<text transform="translate(694,374) scale(1,0.9)" class="mono" font-size="14" letter-spacing="0.6" fill="#000" xml:space="preserve">AGRIHAN                   272   307   24</text>
<text transform="translate(694,388) scale(1,0.9)" class="mono" font-size="14" letter-spacing="0.6" fill="#000" xml:space="preserve">ALAMAGAN                  285   323   24</text>
<text transform="translate(694,402) scale(1,0.9)" class="mono" font-size="14" letter-spacing="0.6" fill="#000" xml:space="preserve">ANATAHAN                  297   343   24</text>
<text transform="translate(694,416) scale(1,0.9)" class="mono" font-size="14" letter-spacing="0.6" fill="#000" xml:space="preserve">IWO_TO                    189   358   24</text>
<text transform="translate(694,430) scale(1,0.9)" class="mono" font-size="14" letter-spacing="0.6" fill="#000" xml:space="preserve">PAGAN                     280   317   24</text>
<text transform="translate(694,444) scale(1,0.9)" class="mono" font-size="14" letter-spacing="0.6" fill="#000" xml:space="preserve">SAIPAN                    306   386   24</text>
<text transform="translate(694,458) scale(1,0.9)" class="mono" font-size="14" letter-spacing="0.6" fill="#000" xml:space="preserve">TINIAN                    308   384   24</text>
<rect x="694" y="250" width="359" height="1" fill="#000"/>
<rect x="694" y="321" width="359" height="1" fill="#000"/>
<rect x="685" y="472" width="343" height="112" fill="#fff" stroke="#000" stroke-width="2"/>
<text transform="translate(706,486) scale(1,0.9)" class="mono" font-size="14" letter-spacing="0.6" fill="#000">LESS THAN 34 KNOTS</text>
<text transform="translate(706,503) scale(1,0.9)" class="mono" font-size="14" letter-spacing="0.6" fill="#000">34-63 KNOTS</text>
<text transform="translate(706,520) scale(1,0.9)" class="mono" font-size="14" letter-spacing="0.6" fill="#000">MORE THAN 63 KNOTS</text>
<text transform="translate(694,537) scale(1,0.9)" class="mono" font-size="14" letter-spacing="0.6" fill="#000">PAST 6 HOURLY CYCLONE POSITS IN BLACK</text>
<text transform="translate(694,554) scale(1,0.9)" class="mono" font-size="14" letter-spacing="0.6" fill="#000">FORECAST CYCLONE POSITS IN COLOR</text>
<circle cx="695.8" cy="481.9" r="3.6" fill="none" stroke="#000" stroke-width="1"/>
<circle cx="695.8" cy="498.5" r="3.8" fill="none" stroke="#000" stroke-width="1.1"/><path d="M693.3,495.0 Q695.4,490.9 700.8,490.9 M698.3,502.0 Q696.2,506.1 690.8,506.1" fill="none" stroke="#000" stroke-width="1.0"/>
<circle cx="695.8" cy="515.3" r="4.0" fill="#000"/><path d="M693.2,511.6 Q695.4,507.5 700.8,507.5 M698.4,519.0 Q696.2,523.1 690.8,523.1" fill="none" stroke="#000" stroke-width="1.0"/>
<g transform="translate(1038.3,767)">
<defs><path id="arcT" d="M-26.6,4.7 A27,27 0 1 1 26.6,4.7"/></defs>
<path d="M-26,-20 C-18,-36 2,-45 17.5,-48.5 C10,-44 4,-39 3,-33 Z" fill="#d9232e"/>
<path d="M26,20 C18,36 -2,45 -17.5,48 C-10,44 -4,39 -3,33 Z" fill="#d9232e"/>
<circle r="33.6" fill="#d9232e"/>
<circle cx="0.3" cy="-1.2" r="4.6" fill="#fff"/>
<g fill="#2f8f3c"><ellipse cx="-18" cy="-12.5" rx="2.8" ry="2.2"/><ellipse cx="-10.7" cy="-15" rx="3" ry="2.4"/><ellipse cx="-3" cy="-12" rx="3.6" ry="1.6"/><ellipse cx="3.5" cy="-10.3" rx="3.2" ry="2.2"/><path d="M9.5,-5.5 L16,-4.5 L23,2 L19.5,5.5 L15,10.5 L11.5,7.5 L10.5,1 Z"/><ellipse cx="-22" cy="-9" rx="0.8" ry="0.8"/></g>
<text class="sans" font-size="4.9" font-weight="bold" fill="#fff" letter-spacing="0.05"><textPath href="#arcT" startOffset="50%" text-anchor="middle">JOINT TYPHOON WARNING CENTER</textPath></text>
<text x="0" y="16.5" text-anchor="middle" class="sans" font-size="4.6" font-weight="bold" fill="#f3c9cc">PEARL HARBOR</text>
<text x="0" y="21.8" text-anchor="middle" class="sans" font-size="3.9" font-weight="bold" fill="#f3c9cc">HAWAII</text>
<text transform="translate(-24,18.5) rotate(55)" text-anchor="middle" class="sans" font-size="3" font-weight="bold" fill="#f3c9cc">S.W.C</text>
<text transform="translate(23.5,19.5) rotate(-55)" text-anchor="middle" class="sans" font-size="3" font-weight="bold" fill="#f3c9cc">N.P.C</text>
</g>
</svg></body></html>
